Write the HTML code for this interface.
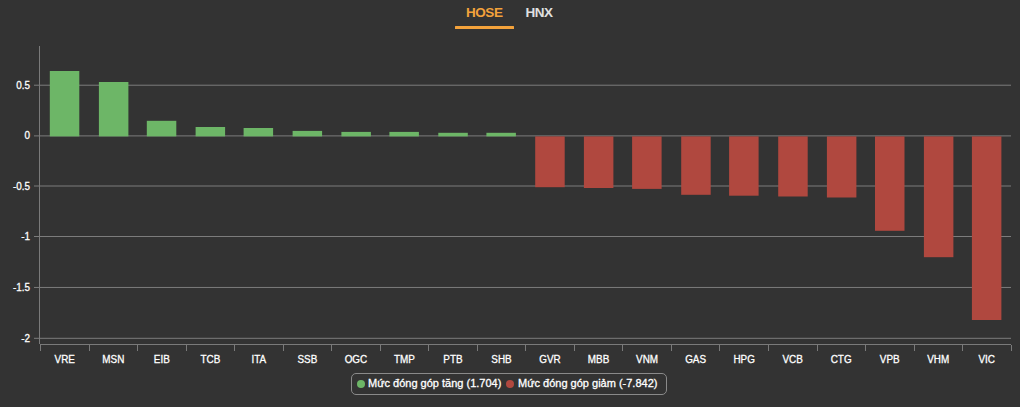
<!DOCTYPE html>
<html><head><meta charset="utf-8">
<style>
html,body{margin:0;padding:0;background:#333333;}
body{width:1020px;height:407px;overflow:hidden;position:relative;font-family:"Liberation Sans",Arial,sans-serif;}
svg{position:absolute;left:0;top:0;}
.yl,.xl{font-family:"Liberation Sans",Arial,sans-serif;font-size:11px;fill:#ffffff;stroke:#ffffff;stroke-width:0.3px;}
.tab{position:absolute;top:4.5px;font-size:13.5px;letter-spacing:-0.45px;font-weight:bold;line-height:16px;}
#hose{left:466px;color:#f3a23b;}
#hnx{left:525.5px;color:#e0e0e0;}
#ul{position:absolute;left:455px;top:26px;width:59px;height:3px;background:#f3a23b;border-radius:0.5px;}
#legend{position:absolute;left:351px;top:373px;width:314px;height:20px;border:1px solid #8a8a8a;border-radius:5px;}
.li{position:absolute;top:1px;font-size:11px;-webkit-text-stroke:0.3px #fff;line-height:16px;color:#fff;white-space:nowrap;}
.dot{position:absolute;top:6px;width:8px;height:8px;border-radius:50%;}
</style></head>
<body>
<div class="tab" id="hose">HOSE</div>
<div class="tab" id="hnx">HNX</div>
<div id="ul"></div>
<svg width="1020" height="407">
<rect x="34" y="84.7" width="977" height="1" fill="#7c7c7c"/>
<text transform="translate(30 88.5) scale(0.9 1)" text-anchor="end" class="yl">0.5</text>
<rect x="34" y="135.4" width="977" height="1" fill="#7c7c7c"/>
<text transform="translate(30 138.5) scale(0.9 1)" text-anchor="end" class="yl">0</text>
<rect x="34" y="185.5" width="977" height="1" fill="#7c7c7c"/>
<text transform="translate(30 189.5) scale(0.9 1)" text-anchor="end" class="yl">-0.5</text>
<rect x="34" y="236.0" width="977" height="1" fill="#7c7c7c"/>
<text transform="translate(30 239.5) scale(0.9 1)" text-anchor="end" class="yl">-1</text>
<rect x="34" y="286.95" width="977" height="1" fill="#7c7c7c"/>
<text transform="translate(30 290.5) scale(0.9 1)" text-anchor="end" class="yl">-1.5</text>
<rect x="34" y="337.8" width="977" height="1" fill="#7c7c7c"/>
<text transform="translate(30 341.5) scale(0.9 1)" text-anchor="end" class="yl">-2</text>
<rect x="39" y="46" width="1" height="298" fill="#7a7a7a"/>
<rect x="40" y="344" width="971" height="1" fill="#7a7a7a"/>
<rect x="40" y="345" width="1" height="6" fill="#7a7a7a"/>
<rect x="89" y="345" width="1" height="6" fill="#7a7a7a"/>
<rect x="137" y="345" width="1" height="6" fill="#7a7a7a"/>
<rect x="186" y="345" width="1" height="6" fill="#7a7a7a"/>
<rect x="234" y="345" width="1" height="6" fill="#7a7a7a"/>
<rect x="283" y="345" width="1" height="6" fill="#7a7a7a"/>
<rect x="331" y="345" width="1" height="6" fill="#7a7a7a"/>
<rect x="380" y="345" width="1" height="6" fill="#7a7a7a"/>
<rect x="428" y="345" width="1" height="6" fill="#7a7a7a"/>
<rect x="477" y="345" width="1" height="6" fill="#7a7a7a"/>
<rect x="525" y="345" width="1" height="6" fill="#7a7a7a"/>
<rect x="574" y="345" width="1" height="6" fill="#7a7a7a"/>
<rect x="622" y="345" width="1" height="6" fill="#7a7a7a"/>
<rect x="671" y="345" width="1" height="6" fill="#7a7a7a"/>
<rect x="719" y="345" width="1" height="6" fill="#7a7a7a"/>
<rect x="768" y="345" width="1" height="6" fill="#7a7a7a"/>
<rect x="817" y="345" width="1" height="6" fill="#7a7a7a"/>
<rect x="865" y="345" width="1" height="6" fill="#7a7a7a"/>
<rect x="914" y="345" width="1" height="6" fill="#7a7a7a"/>
<rect x="962" y="345" width="1" height="6" fill="#7a7a7a"/>
<rect x="1011" y="345" width="1" height="6" fill="#7a7a7a"/>
<rect x="49.80" y="71.00" width="29.5" height="65.40" fill="#6db667"/>
<rect x="98.90" y="82.00" width="29.5" height="54.40" fill="#6db667"/>
<rect x="146.80" y="120.80" width="29.5" height="15.60" fill="#6db667"/>
<rect x="195.60" y="127.00" width="29.5" height="9.40" fill="#6db667"/>
<rect x="243.60" y="128.00" width="29.5" height="8.40" fill="#6db667"/>
<rect x="292.60" y="130.90" width="29.5" height="5.50" fill="#6db667"/>
<rect x="341.40" y="131.90" width="29.5" height="4.50" fill="#6db667"/>
<rect x="389.40" y="131.90" width="29.5" height="4.50" fill="#6db667"/>
<rect x="438.30" y="132.80" width="29.5" height="3.60" fill="#6db667"/>
<rect x="486.40" y="132.80" width="29.5" height="3.60" fill="#6db667"/>
<rect x="535.20" y="136.40" width="29.5" height="50.80" fill="#b0483f"/>
<rect x="583.90" y="136.40" width="29.5" height="51.60" fill="#b0483f"/>
<rect x="632.10" y="136.40" width="29.5" height="52.50" fill="#b0483f"/>
<rect x="681.20" y="136.40" width="29.5" height="58.40" fill="#b0483f"/>
<rect x="729.10" y="136.40" width="29.5" height="59.30" fill="#b0483f"/>
<rect x="778.20" y="136.40" width="29.5" height="60.10" fill="#b0483f"/>
<rect x="826.90" y="136.40" width="29.5" height="61.10" fill="#b0483f"/>
<rect x="875.00" y="136.40" width="29.5" height="94.40" fill="#b0483f"/>
<rect x="923.90" y="136.40" width="29.5" height="120.80" fill="#b0483f"/>
<rect x="971.90" y="136.40" width="29.5" height="183.60" fill="#b0483f"/>
<text transform="translate(64.76 363) scale(0.9 1)" text-anchor="middle" class="xl">VRE</text>
<text transform="translate(113.29 363) scale(0.9 1)" text-anchor="middle" class="xl">MSN</text>
<text transform="translate(161.81 363) scale(0.9 1)" text-anchor="middle" class="xl">EIB</text>
<text transform="translate(210.34 363) scale(0.9 1)" text-anchor="middle" class="xl">TCB</text>
<text transform="translate(258.86 363) scale(0.9 1)" text-anchor="middle" class="xl">ITA</text>
<text transform="translate(307.39 363) scale(0.9 1)" text-anchor="middle" class="xl">SSB</text>
<text transform="translate(355.91 363) scale(0.9 1)" text-anchor="middle" class="xl">OGC</text>
<text transform="translate(404.44 363) scale(0.9 1)" text-anchor="middle" class="xl">TMP</text>
<text transform="translate(452.96 363) scale(0.9 1)" text-anchor="middle" class="xl">PTB</text>
<text transform="translate(501.49 363) scale(0.9 1)" text-anchor="middle" class="xl">SHB</text>
<text transform="translate(550.01 363) scale(0.9 1)" text-anchor="middle" class="xl">GVR</text>
<text transform="translate(598.54 363) scale(0.9 1)" text-anchor="middle" class="xl">MBB</text>
<text transform="translate(647.06 363) scale(0.9 1)" text-anchor="middle" class="xl">VNM</text>
<text transform="translate(695.59 363) scale(0.9 1)" text-anchor="middle" class="xl">GAS</text>
<text transform="translate(744.11 363) scale(0.9 1)" text-anchor="middle" class="xl">HPG</text>
<text transform="translate(792.64 363) scale(0.9 1)" text-anchor="middle" class="xl">VCB</text>
<text transform="translate(841.16 363) scale(0.9 1)" text-anchor="middle" class="xl">CTG</text>
<text transform="translate(889.69 363) scale(0.9 1)" text-anchor="middle" class="xl">VPB</text>
<text transform="translate(938.21 363) scale(0.9 1)" text-anchor="middle" class="xl">VHM</text>
<text transform="translate(986.74 363) scale(0.9 1)" text-anchor="middle" class="xl">VIC</text>
</svg>
<div id="legend">
<div class="dot" style="left:5px;background:#6db667"></div>
<div class="li" style="left:16px">Mức đóng góp tăng (1.704)</div>
<div class="dot" style="left:154px;background:#b0483f"></div>
<div class="li" style="left:166px">Mức đóng góp giảm (-7.842)</div>
</div>
</body></html>
